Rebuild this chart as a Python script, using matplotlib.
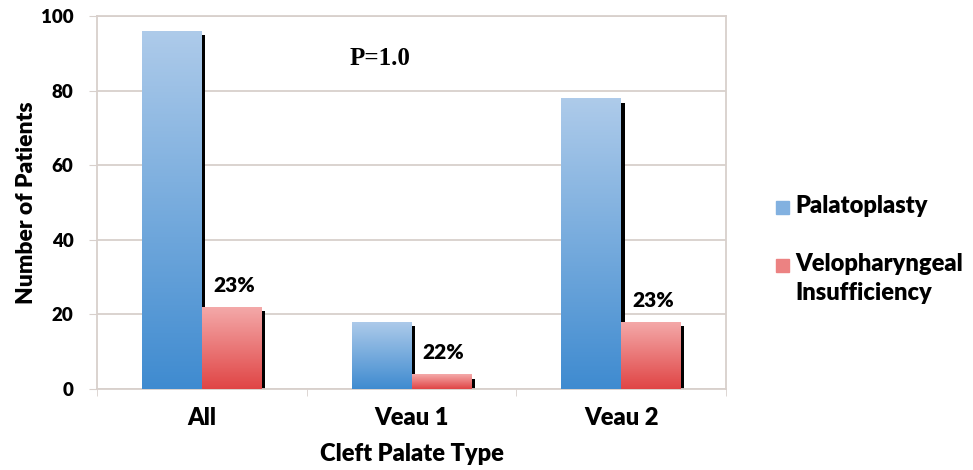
import numpy as np
import matplotlib
matplotlib.use("Agg")
import matplotlib.pyplot as plt
from matplotlib.colors import LinearSegmentedColormap
from matplotlib.patches import Rectangle

categories = ["All", "Veau 1", "Veau 2"]
palatoplasty = [96, 18, 78]
vpi = [22, 4, 18]
series_names = ["Palatoplasty", "Velopharyngeal\nInsufficiency"]
p_text = "P=1.0"

plt.rcParams["font.family"] = ["Lato", "DejaVu Sans"]
wt = "heavy"
plt.rcParams["font.weight"] = wt

blue_cmap = LinearSegmentedColormap.from_list("blue", ["#3f8bd0", "#aecbea"])
red_cmap = LinearSegmentedColormap.from_list("red", ["#e04545", "#f4aaaa"])

fig = plt.figure(figsize=(9.73, 4.70), dpi=100)
ax = fig.add_axes([97 / 973, 1 - 389 / 470, 629 / 973, 373 / 470])

x = np.arange(len(categories))
w = 0.286
grid_col = "#d8d0cc"


def gradient_bars(xs, heights, cmap, z):
    bars = ax.bar(xs, heights, width=w, color=cmap(0.5), zorder=z, linewidth=0)
    grad = np.linspace(0, 1, 256).reshape(-1, 1)
    for b in bars:
        x0, y0 = b.get_x(), b.get_y()
        im = ax.imshow(grad, cmap=cmap, origin="lower", aspect="auto",
                       extent=[x0, x0 + b.get_width(), y0, y0 + b.get_height()],
                       zorder=z + 0.1)
        im.set_clip_path(b)
    return bars


# thin black shadows along the right edge of each bar
sh_w = 0.016
for xs, vals in [(x - w / 2, palatoplasty), (x + w / 2, vpi)]:
    for xi, v in zip(xs, vals):
        ax.add_patch(Rectangle((xi + w / 2, 0), sh_w, v - 1.2,
                               color="black", zorder=2, linewidth=0))

gradient_bars(x - w / 2, palatoplasty, blue_cmap, 3)
gradient_bars(x + w / 2, vpi, red_cmap, 3)

for xi, p, v in zip(x, palatoplasty, vpi):
    ax.text(xi + w / 2 + 0.01, v + 3.3, f"{round(100 * v / p)}%",
            ha="center", va="bottom", fontsize=15, fontweight=wt, zorder=5)

ax.text(0.85, 88.5, p_text, family="Liberation Serif", fontsize=18,
        fontweight="bold", ha="center", va="center")

ax.set_xlim(-0.5, 2.5)
ax.set_ylim(0, 100)
ax.set_yticks(range(0, 101, 20))
ax.set_xticks(x)
ax.set_xticklabels(categories, fontsize=17, fontweight=wt)
ax.set_xticks([-0.5, 0.5, 1.5, 2.5], minor=True)
ax.tick_params(axis="x", which="major", length=0, pad=13)
ax.tick_params(axis="x", which="minor", length=5, color=grid_col)
ax.tick_params(axis="y", length=6, color=grid_col, pad=11, labelsize=13.5)
for lbl in ax.get_yticklabels():
    lbl.set_fontweight(wt)
ax.yaxis.grid(True, color=grid_col, linewidth=1.3, zorder=0)
ax.set_axisbelow(True)
for s in ax.spines.values():
    s.set_color(grid_col)
    s.set_linewidth(1.3)

ax.set_ylabel("Number of Patients", fontsize=16.5, fontweight=wt, labelpad=3)
ax.set_xlabel("Cleft Palate Type", fontsize=17, fontweight=wt, labelpad=10)

# legend drawn by hand so the swatch sits on the first text line
legend_y = [195, 253]
for name, cmap, ly in zip(series_names, [blue_cmap, red_cmap], legend_y):
    fig.patches.append(Rectangle((776 / 973, 1 - (ly + 19) / 470), 13 / 973, 13 / 470,
                                 transform=fig.transFigure, color=cmap(0.6)))
    fig.text(795 / 973, 1 - ly / 470, name, fontsize=17, fontweight=wt,
             va="top", ha="left", linespacing=1.4)

fig.savefig("out.png", dpi=100)
